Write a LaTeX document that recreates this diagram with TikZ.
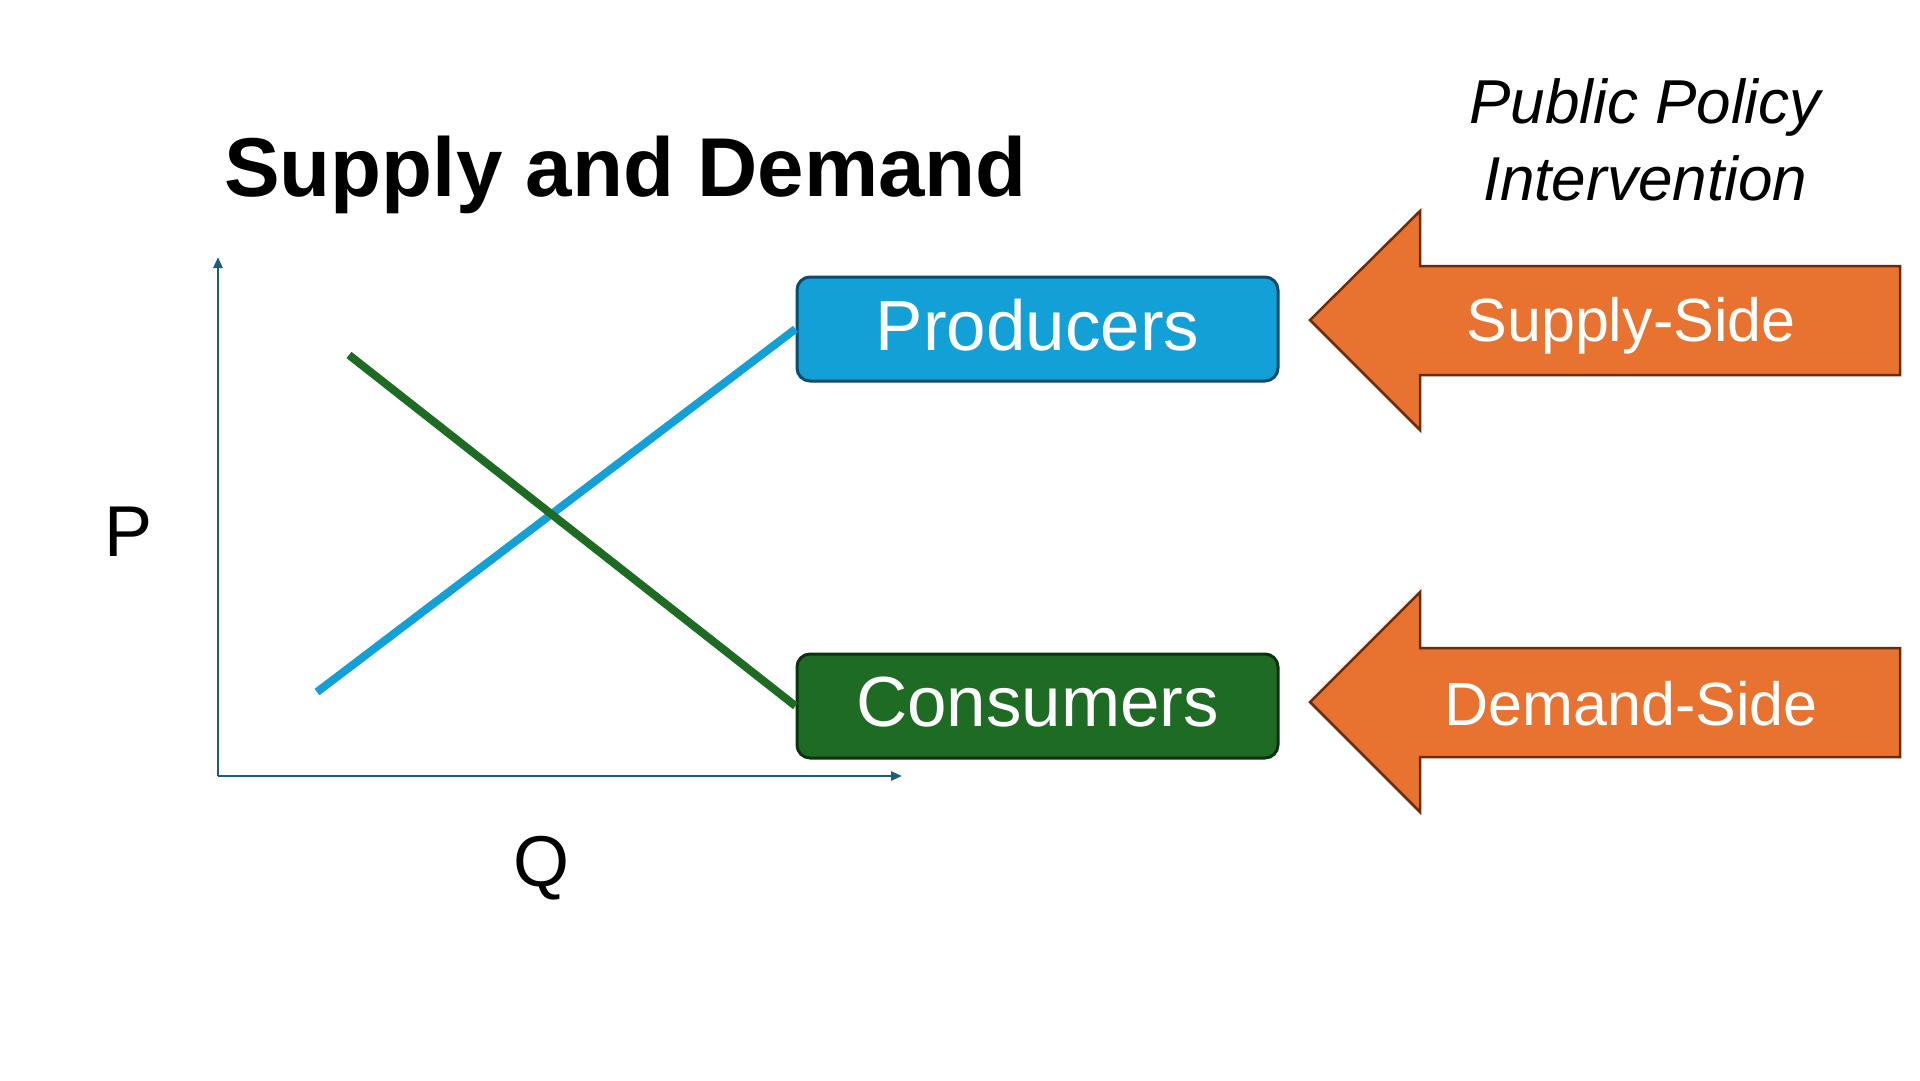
\documentclass[tikz,border=0pt]{standalone}
\usepackage{fontspec}
\setmainfont{Liberation Sans}
\usetikzlibrary{arrows.meta}
\definecolor{axisc}{HTML}{1F5C7A}
\definecolor{prodfill}{HTML}{12A0D7}
\definecolor{proddraw}{HTML}{0E4A6B}
\definecolor{consfill}{HTML}{1E6B24}
\definecolor{consdraw}{HTML}{0B3310}
\definecolor{orangefill}{HTML}{E8722F}
\definecolor{orangedraw}{HTML}{6E2B0A}
\tikzset{
  axisline/.style={draw=axisc, line width=2.5pt, -{Triangle[length=11pt,width=9pt]}},
  boxnode/.style={rounded corners=13pt, line width=3pt, minimum width=481pt, minimum height=104pt, text=white, inner sep=0pt, text depth=9pt, font=\fontsize{71}{80}\selectfont},
  curve/.style={line width=8pt},
  policyarrow/.style={fill=orangefill, draw=orangedraw, line width=2.5pt, line join=miter},
  arrowtext/.style={text=white, font=\fontsize{61}{70}\selectfont, anchor=base, inner sep=0pt},
  axislabel/.style={font=\fontsize{72}{80}\selectfont, anchor=base, inner sep=0pt}
}
\begin{document}
\begin{tikzpicture}[x=1pt,y=-1pt]
\useasboundingbox[fill=white] (0,0) rectangle (1920,1080);
% title
\node[anchor=base west, inner sep=0pt, font=\bfseries\fontsize{83.5}{90}\selectfont] (title) at (224,196) {Supply and Demand};
\node[anchor=base, inner sep=0pt, align=center, font=\itshape\fontsize{62}{77}\selectfont] (policy) at (1645,200) {Public Policy\\Intervention};
% axes
\coordinate (origin) at (218,776);
\coordinate (ytop) at (218,257);
\coordinate (xend) at (902,776);
\draw[axisline] (origin) -- (ytop);
\draw[axisline] (origin) -- (xend);
\node[axislabel] (plabel) at (129,556) {P};
\node[axislabel] (qlabel) at (541,886) {Q};
% boxes
\node[boxnode, fill=prodfill, draw=proddraw] (prod) at (1037.5,329) {Producers};
\node[boxnode, fill=consfill, draw=consdraw] (cons) at (1037.5,706) {Consumers};
% curves
\coordinate (sstart) at (317,692);
\coordinate (dstart) at (349,355);
\draw[curve, draw=prodfill] (sstart) -- (prod.west);
\draw[curve, draw=consfill] (dstart) -- (cons.west);
% policy arrows
\draw[policyarrow] (1310,320) -- (1420,211) -- (1420,266) -- (1900,266) -- (1900,375) -- (1420,375) -- (1420,430) -- cycle;
\draw[policyarrow] (1310,702) -- (1420,592) -- (1420,648) -- (1900,648) -- (1900,757) -- (1420,757) -- (1420,812) -- cycle;
\node[arrowtext] (supplyside) at (1631,341) {Supply-Side};
\node[arrowtext] (demandside) at (1631,725) {Demand-Side};
\end{tikzpicture}
\end{document}
